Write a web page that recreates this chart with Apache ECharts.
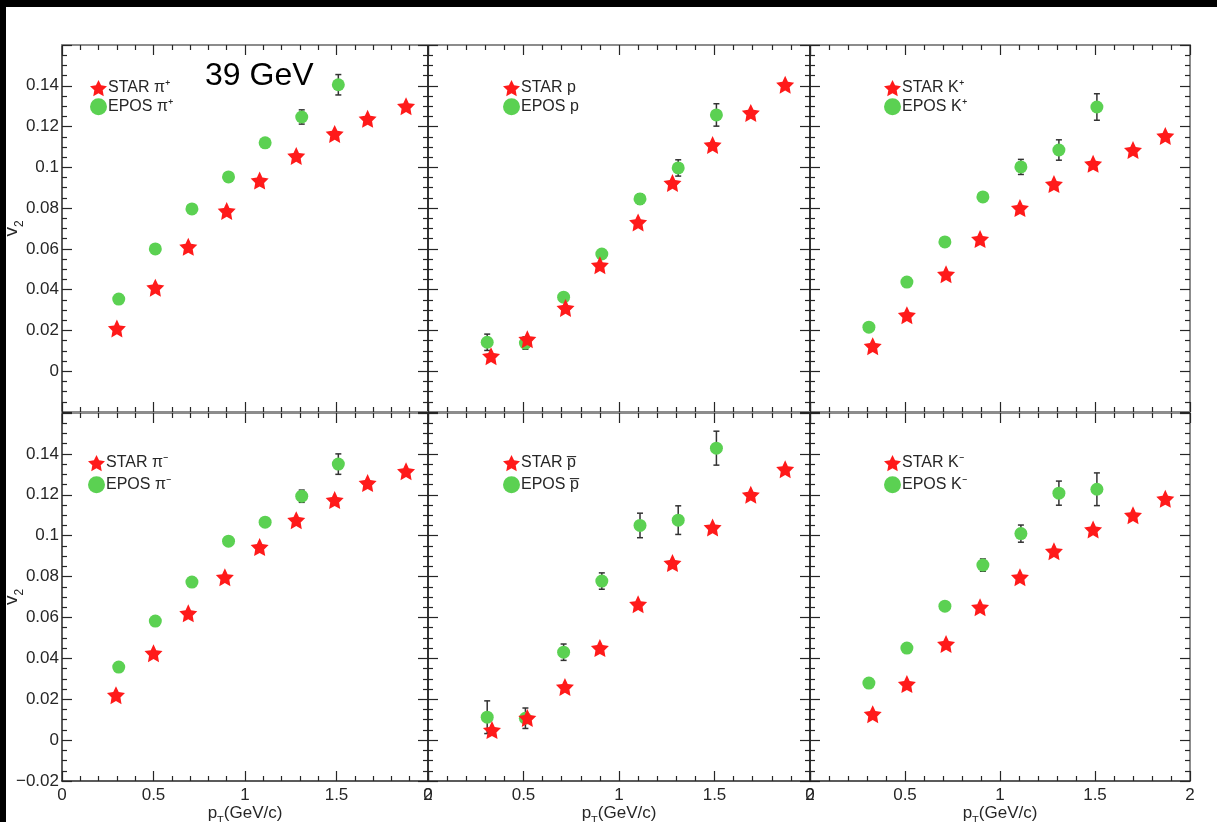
<!DOCTYPE html>
<html>
<head>
<meta charset="utf-8">
<script src="https://cdn.jsdelivr.net/npm/echarts@6/dist/echarts.min.js"></script>
<style>
  html, body { margin: 0; padding: 0; background: #fff; }
  #chart { width: 1217px; height: 822px; }
</style>
</head>
<body>
<div id="chart"></div>
<script>
// v2 vs pT, 39 GeV, STAR data vs EPOS
const eposPt = [0.31, 0.51, 0.71, 0.91, 1.11, 1.31, 1.51]

const piPlusStarPt = [0.30, 0.51, 0.69, 0.90, 1.08, 1.28, 1.49, 1.67, 1.88]
const piPlusStarV2 = [0.021, 0.041, 0.061, 0.0786, 0.0935, 0.1056, 0.1164, 0.1238, 0.130]
const piPlusEposV2 = [0.0354, 0.0600, 0.0796, 0.0953, 0.112, 0.1247, 0.1405]
const piPlusEposErr = [0.001, 0.001, 0.001, 0.001, 0.0015, 0.0035, 0.005]

const pStarPt = [0.33, 0.52, 0.72, 0.90, 1.10, 1.28, 1.49, 1.69, 1.87]
const pStarV2 = [0.0074, 0.0157, 0.031, 0.052, 0.073, 0.0923, 0.111, 0.1267, 0.1405]
const pEposV2 = [0.0142, 0.0138, 0.0363, 0.0575, 0.0845, 0.0997, 0.1257]
const pEposErr = [0.004, 0.003, 0.002, 0.002, 0.0025, 0.004, 0.0055]

const kPlusStarPt = [0.33, 0.51, 0.716, 0.895, 1.105, 1.284, 1.49, 1.70, 1.87]
const kPlusStarV2 = [0.0123, 0.0275, 0.0476, 0.0648, 0.080, 0.0918, 0.1017, 0.1085, 0.1154]
const kPlusEposV2 = [0.0216, 0.0437, 0.0634, 0.0855, 0.1002, 0.1085, 0.1296]
const kPlusEposErr = [0.001, 0.001, 0.0015, 0.0015, 0.0037, 0.005, 0.0065]

const piMinusStarPt = [0.295, 0.50, 0.69, 0.89, 1.08, 1.28, 1.49, 1.67, 1.88]
const piMinusStarV2 = [0.022, 0.0425, 0.062, 0.0797, 0.0944, 0.1076, 0.1174, 0.1257, 0.1315]
const piMinusEposV2 = [0.0357, 0.0582, 0.0773, 0.0973, 0.1066, 0.1193, 0.135]
const piMinusEposErr = [0.001, 0.001, 0.001, 0.0012, 0.0015, 0.003, 0.005]

const pbarStarPt = [0.335, 0.52, 0.717, 0.90, 1.10, 1.28, 1.49, 1.69, 1.87]
const pbarStarV2 = [0.0049, 0.0108, 0.026, 0.045, 0.0665, 0.0866, 0.104, 0.120, 0.1325]
const pbarEposV2 = [0.0112, 0.0107, 0.043, 0.0778, 0.105, 0.1076, 0.1428]
const pbarEposErr = [0.008, 0.005, 0.004, 0.004, 0.006, 0.007, 0.0083]

const kMinusStarPt = [0.33, 0.51, 0.716, 0.895, 1.105, 1.284, 1.49, 1.70, 1.87]
const kMinusStarV2 = [0.0127, 0.0274, 0.047, 0.065, 0.0797, 0.0924, 0.103, 0.110, 0.118]
const kMinusEposV2 = [0.0279, 0.045, 0.0655, 0.0856, 0.101, 0.1208, 0.1227]
const kMinusEposErr = [0.001, 0.001, 0.0015, 0.003, 0.0042, 0.0059, 0.008]

const particleLabels = ['\u03c0\u207a', 'p', 'K\u207a', '\u03c0\u207b', 'p\u0305', 'K\u207b']

const panels = [
  { starPt: piPlusStarPt, starV2: piPlusStarV2, eposV2: piPlusEposV2, eposErr: piPlusEposErr },
  { starPt: pStarPt, starV2: pStarV2, eposV2: pEposV2, eposErr: pEposErr },
  { starPt: kPlusStarPt, starV2: kPlusStarV2, eposV2: kPlusEposV2, eposErr: kPlusEposErr },
  { starPt: piMinusStarPt, starV2: piMinusStarV2, eposV2: piMinusEposV2, eposErr: piMinusEposErr },
  { starPt: pbarStarPt, starV2: pbarStarV2, eposV2: pbarEposV2, eposErr: pbarEposErr },
  { starPt: kMinusStarPt, starV2: kMinusStarV2, eposV2: kMinusEposV2, eposErr: kMinusEposErr }
]

// layout of the 3x2 pads
const cols = [{ left: 62, width: 366 }, { left: 428, width: 382 }, { left: 810, width: 380 }]
const rows = [{ top: 45, height: 367 }, { top: 413, height: 368 }]
const legendPos = [[90, 80, 2], [503, 80, 2], [884, 80, 2], [88, 455, 5], [503, 455, 5], [884, 455, 5]]

const FONT = '"Liberation Sans", Arial, sans-serif'
const RED = '#ff1a1a'
const GREEN = '#5bd152'
const DARK = '#262626'
const GREY = '#8c8c8c'
const STAR = 'path://M0,-10 L2.9,-4 L9.511,-3.09 L4.7,1.53 L5.878,8.09 L0,4.9 L-5.878,8.09 L-4.7,1.53 L-9.511,-3.09 L-2.9,-4 Z'

const grid = []
const xAxis = []
const yAxis = []
const series = []
const legend = []

function fmtY(v) {
  return Number(v.toFixed(2)).toString().replace('-', '\u2212')
}

panels.forEach((pan, i) => {
  const r = Math.floor(i / 3)
  const c = i % 3
  grid.push({
    left: cols[c].left, width: cols[c].width, top: rows[r].top, height: rows[r].height,
    containLabel: false, outerBoundsMode: 'none'
  })

  const tick = { inside: true, length: 10, lineStyle: { color: DARK, width: 1.2 } }
  const minor = { show: true, length: 5, lineStyle: { color: DARK, width: 1.2 } }

  // bottom + top x axes
  xAxis.push({
    gridIndex: i, type: 'value', min: 0, max: 2, interval: 0.5,
    axisLine: { onZero: false, lineStyle: { color: r === 1 ? DARK : GREY, width: r === 1 ? 1.5 : 2 } },
    axisTick: tick,
    minorTick: Object.assign({ splitNumber: 5 }, minor),
    splitLine: { show: false },
    axisLabel: { show: r === 1, margin: 6, fontSize: 17, fontFamily: FONT, color: DARK, formatter: v => String(v) },
    name: r === 1 ? '{a|p}{b|T}{a|(GeV/c)}' : '',
    nameLocation: 'middle', nameGap: 18,
    nameTextStyle: {
      rich: {
        a: { fontSize: 17, fontFamily: FONT, color: DARK, lineHeight: 22, verticalAlign: 'top' },
        b: { fontSize: 11, fontFamily: FONT, color: DARK, lineHeight: 22, verticalAlign: 'bottom' }
      }
    }
  })
  xAxis.push({
    gridIndex: i, type: 'value', position: 'top', min: 0, max: 2, interval: 0.5,
    axisLine: { onZero: false, lineStyle: { color: GREY, width: 2 } },
    axisTick: tick,
    minorTick: Object.assign({ splitNumber: 5 }, minor),
    splitLine: { show: false },
    axisLabel: { show: false }
  })

  // left + right y axes
  yAxis.push({
    gridIndex: i, type: 'value', min: -0.02, max: 0.16, interval: 0.02,
    axisLine: { show: true, onZero: false, lineStyle: { color: DARK, width: 1.5 } },
    axisTick: tick,
    minorTick: Object.assign({ splitNumber: 4 }, minor),
    splitLine: { show: false },
    axisLabel: {
      show: c === 0, margin: 3, fontSize: 17, fontFamily: FONT, color: DARK,
      formatter: v => (v > 0.159 || (r === 0 && v < -0.019)) ? '' : fmtY(v)
    },
    name: c === 0 ? '{a|v}{b|2}' : '',
    nameLocation: 'middle', nameGap: 36, nameMoveOverlap: false,
    nameTextStyle: {
      rich: {
        a: { fontSize: 19, fontFamily: FONT, color: DARK, lineHeight: 24, verticalAlign: 'top' },
        b: { fontSize: 12, fontFamily: FONT, color: DARK, lineHeight: 24, verticalAlign: 'bottom' }
      }
    }
  })
  yAxis.push({
    gridIndex: i, type: 'value', position: 'right', min: -0.02, max: 0.16, interval: 0.02,
    axisLine: { show: true, onZero: false, lineStyle: { color: c === 2 ? GREY : DARK, width: c === 2 ? 2 : 1.5 } },
    axisTick: tick,
    minorTick: Object.assign({ splitNumber: 4 }, minor),
    splitLine: { show: false },
    axisLabel: { show: false }
  })

  const starName = 'STAR ' + particleLabels[i]
  const eposName = 'EPOS ' + particleLabels[i]

  // EPOS error bars
  series.push({
    type: 'custom', xAxisIndex: 2 * i, yAxisIndex: 2 * i, z: 2,
    data: eposPt.map((x, k) => [x, pan.eposV2[k], pan.eposErr[k]]),
    renderItem: (params, api) => {
      const x = api.value(0), y = api.value(1), e = api.value(2)
      const lo = api.coord([x, y - e])
      const hi = api.coord([x, y + e])
      const st = { stroke: '#333', lineWidth: 1.5 }
      return {
        type: 'group',
        children: [
          { type: 'line', shape: { x1: lo[0], y1: lo[1], x2: hi[0], y2: hi[1] }, style: st },
          { type: 'line', shape: { x1: lo[0] - 3, y1: lo[1], x2: lo[0] + 3, y2: lo[1] }, style: st },
          { type: 'line', shape: { x1: hi[0] - 3, y1: hi[1], x2: hi[0] + 3, y2: hi[1] }, style: st }
        ]
      }
    }
  })
  series.push({
    name: eposName, type: 'scatter', xAxisIndex: 2 * i, yAxisIndex: 2 * i, z: 3,
    symbol: 'circle', symbolSize: 13,
    itemStyle: { color: GREEN, opacity: 1 },
    data: eposPt.map((x, k) => [x, pan.eposV2[k]])
  })
  series.push({
    name: starName, type: 'scatter', xAxisIndex: 2 * i, yAxisIndex: 2 * i, z: 4,
    symbol: STAR, symbolSize: 18,
    itemStyle: { color: RED, opacity: 1 },
    data: pan.starPt.map((x, k) => [x, pan.starV2[k]])
  })

  legend.push({
    left: legendPos[i][0], top: legendPos[i][1], orient: 'vertical',
    itemGap: legendPos[i][2], itemWidth: 17, itemHeight: 17, padding: 0,
    selectedMode: false,
    textStyle: { fontSize: 16, fontFamily: FONT, color: DARK, padding: [0, 0, 0, -4] },
    data: [{ name: starName, icon: STAR }, { name: eposName, icon: 'circle' }]
  })
})

const chart = echarts.init(document.getElementById('chart'), null, { renderer: 'canvas' })
chart.setOption({
  animation: false,
  backgroundColor: '#fff',
  grid, xAxis, yAxis, series, legend,
  graphic: [
    { type: 'text', left: 205, top: 60, style: { text: '39 GeV', fontSize: 32, fontFamily: FONT, fill: '#000' } },
    // black strips of the screenshot edge
    { type: 'rect', left: 0, top: 0, z: 100, shape: { width: 1217, height: 7 }, style: { fill: '#000' } },
    { type: 'rect', left: 0, top: 0, z: 100, shape: { width: 6, height: 822 }, style: { fill: '#000' } }
  ]
})
</script>
</body>
</html>
